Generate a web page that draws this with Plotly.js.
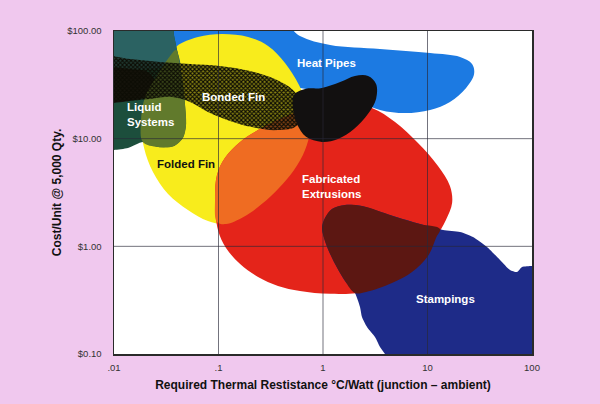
<!DOCTYPE html>
<html>
<head>
<meta charset="utf-8">
<script src="https://cdn.plot.ly/plotly-3.0.1.min.js"></script>
<style>html,body{margin:0;padding:0;background:#f0c8ee;}#chart{width:600px;height:404px;}</style>
</head>
<body>
<div id="chart"></div>
<script>
// Axis ticks
const xTickVals = [0.01, 0.1, 1, 10, 100];
const xTickText = ['.01', '.1', '1', '10', '100'];
const yTickVals = [0.1, 1, 10, 100];
const yTickText = ['$0.10', '$1.00', '$10.00', '$100.00'];

// Region outlines (thermal resistance °C/W, cost $/unit)
const heatPipesX = [0.0073,0.388,0.602,1.17,3.51,10.6,20.5,26.7,27.9,23.4,16.4,10.6,6.09,3.51,2.02,0.602,0.0665,0.01,0.0073];
const heatPipesY = [126,126,89.9,74.1,68.1,62.5,57.4,49.4,39.9,29.6,21.9,18.5,17.3,18.5,22.9,29.6,36.6,41.6,41.6];

const foldedFinX = [0.0401,0.0636,0.108,0.192,0.298,0.433,0.589,0.719,0.751,0.673,0.528,0.379,0.261,0.175,0.118,0.0793,0.0510,0.0329,0.0236,0.0194,0.0181,0.0198,0.0264,0.0344];
const foldedFinY = [72.6,88.0,93.8,88.0,72.6,50.5,31.5,19.3,12.0,7.86,5.12,3.49,2.48,1.88,1.61,1.72,2.18,3.07,4.91,8.20,14.3,24.4,39.9,58.6];

const extrusionsX = [0.0926,0.0967,0.115,0.161,0.261,0.463,0.838,1.62,2.94,4.89,8.11,12.6,16.4,17.2,15.0,12.1,10.1,7.11,4.57,2.58,1.17,0.602,0.371,0.239,0.161,0.118,0.0989];
const extrusionsY = [2.70,4.60,6.62,9.32,12.6,16.3,19.7,21.5,19.3,14.3,9.12,5.58,3.64,2.53,1.76,1.20,0.814,0.578,0.457,0.377,0.362,0.385,0.429,0.520,0.686,0.966,1.42];

const foldExtOverlapX = [0.0967,0.0926,0.0967,0.115,0.161,0.261,0.463,0.703,0.751,0.673,0.528,0.379,0.261,0.175,0.118];
const foldExtOverlapY = [1.685,2.70,4.60,6.62,9.32,12.6,16.3,19.3,12.0,7.86,5.12,3.49,2.48,1.88,1.61];

const liquidX = [0.0073,0.0359,0.0375,0.0401,0.0428,0.0457,0.0478,0.0489,0.0457,0.0375,0.0264,0.0189,0.0136,0.01,0.0073];
const liquidY = [126,126,91.8,66.6,48.3,31.5,20.6,13.4,10.2,8.55,8.37,9.32,8.20,7.86,7.86];

const liquidPipeOverlapX = [0.0073,0.0359,0.0375,0.0401,0.0428,0.0221,0.01,0.0073];
const liquidPipeOverlapY = [126,126,91.8,66.6,48.3,44.4,42.5,42.5];

const darkLeftX = [0.0073,0.0142,0.0212,0.0247,0.0221,0.0159,0.0073];
const darkLeftY = [43.5,44.4,41.6,33.6,25.5,22.9,22.9];

const liquidFoldOverlapX = [0.0392,0.0344,0.0264,0.0198,0.0181,0.0189,0.0264,0.0375,0.0457,0.0489,0.0478,0.0457,0.0428];
const liquidFoldOverlapY = [66.6,58.6,39.9,24.4,14.3,9.32,8.37,8.55,10.2,13.4,20.6,31.5,48.3];

const bondedFinX = [0.0073,0.0142,0.0276,0.0534,0.103,0.200,0.347,0.516,0.630,0.630,0.540,0.347,0.209,0.129,0.0793,0.0534,0.0359,0.0221,0.0127,0.0073];
const bondedFinY = [56.2,55.0,51.6,49.4,47.3,42.5,35.8,28.3,21.5,15.9,12.8,12.0,12.8,14.6,17.7,21.9,24.4,23.4,22.4,22.4];

const darkRightX = [0.528,0.673,0.978,1.46,2.02,2.70,3.22,3.22,2.70,1.98,1.39,0.978,0.688,0.564,0.516];
const darkRightY = [25.5,28.9,29.6,33.6,38.2,38.2,32.2,23.4,17.0,12.3,9.94,9.32,10.4,13.7,19.3];

const stampingsX = [1.045,1.219,1.624,2.361,4.677,8.477,14.07,20.46,27.25,37.11,49.41,61.58,71.87,80.22,100,133,133,4.574,3.920,3.512,3.145,2.637,2.361,2.260,2.024,1.624,1.274,1.068,0.978];
const stampingsY = [1.835,2.225,2.424,2.372,1.915,1.614,1.420,1.360,1.223,0.987,0.748,0.604,0.578,0.644,0.658,0.658,0.0743,0.0743,0.1,0.1164,0.1441,0.1785,0.2211,0.2737,0.3693,0.4773,0.7166,1.053,1.482];

const stampExtOverlapX = [1.045,1.219,1.624,2.361,4.677,8.477,13.17,12.06,10.11,7.108,4.574,2.579,2.024,1.624,1.274,1.068,0.978];
const stampExtOverlapY = [1.835,2.225,2.424,2.372,1.915,1.614,1.451,1.197,0.8144,0.5784,0.4572,0.3773,0.3693,0.4773,0.7166,1.053,1.482];

// Region labels
const labelText = ['Heat Pipes', 'Bonded Fin', 'Liquid<br>Systems', 'Folded Fin', 'Fabricated<br>Extrusions', 'Stampings'];
const labelX = [1.09, 0.1377, 0.01274, 0.0494, 0.6024, 15.0];
const labelY = [50.5, 24.4, 16.6, 5.82, 3.60, 0.325];
const labelAnchor = ['center', 'center', 'left', 'center', 'left', 'center'];
const labelColor = ['#ffffff', '#ffffff', '#ffffff', '#111111', '#ffffff', '#ffffff'];

function blob(x, y, color, smooth) {
  return {
    x: x.concat([x[0]]), y: y.concat([y[0]]), type: 'scatter', mode: 'lines',
    fill: 'toself', fillcolor: color,
    line: {width: 0, shape: 'spline', smoothing: smooth === undefined ? 1 : smooth},
    hoverinfo: 'skip', showlegend: false
  };
}

const band = blob(bondedFinX, bondedFinY, 'rgba(0,0,0,0)');
band.fillpattern = {shape: 'x', size: 3, solidity: 0.6, fgcolor: '#0c0c04', bgcolor: 'rgba(22,22,6,0.5)'};

// grid lines drawn over the regions
const gx = [], gy = [];
xTickVals.slice(1, -1).forEach(v => { gx.push(v, v, null); gy.push(0.1, 100, null); });
yTickVals.slice(1, -1).forEach(v => { gx.push(0.01, 100, null); gy.push(v, v, null); });

const traces = [
  blob(heatPipesX, heatPipesY, '#1c7ae2'),
  blob(foldedFinX, foldedFinY, '#f8ec1c'),
  blob(extrusionsX, extrusionsY, '#e4241a'),
  blob(foldExtOverlapX, foldExtOverlapY, '#ef6c22'),
  blob(liquidX, liquidY, '#1c4e3c', 0.6),
  blob(liquidPipeOverlapX, liquidPipeOverlapY, '#2b6262', 0.6),
  blob(darkLeftX, darkLeftY, '#141010'),
  blob(liquidFoldOverlapX, liquidFoldOverlapY, '#617a2c'),
  band,
  blob(darkRightX, darkRightY, '#121010'),
  blob(stampingsX, stampingsY, '#1e2b88', 0.6),
  blob(stampExtOverlapX, stampExtOverlapY, '#5c1712'),
  {x: gx, y: gy, type: 'scatter', mode: 'lines', line: {color: 'rgba(40,40,55,0.65)', width: 1},
   hoverinfo: 'skip', showlegend: false}
];

const annotations = labelText.map((t, i) => ({
  x: Math.log10(labelX[i]), y: Math.log10(labelY[i]), xref: 'x', yref: 'y',
  text: '<b>' + t + '</b>', showarrow: false, xanchor: labelAnchor[i], align: 'left',
  font: {family: 'Liberation Sans, Arial, sans-serif', size: 11.5, color: labelColor[i]}
}));

const axisCommon = {
  type: 'log', showgrid: false, zeroline: false, showline: true, mirror: true,
  linecolor: '#2a2a2a', linewidth: 1.5, ticks: 'outside', tickcolor: 'rgba(0,0,0,0)',
  tickfont: {family: 'Liberation Sans, Arial, sans-serif', size: 9.5, color: '#333'},
  fixedrange: true
};

const layout = {
  width: 600, height: 404,
  margin: {l: 114, r: 68, t: 31, b: 50},
  paper_bgcolor: '#f0c8ee', plot_bgcolor: '#ffffff',
  xaxis: Object.assign({}, axisCommon, {
    range: [-2, 2], tickvals: xTickVals, ticktext: xTickText, ticklen: 4,
    title: {text: '<b>Required Thermal Restistance °C/Watt (junction – ambient)</b>',
            font: {family: 'Liberation Sans, Arial, sans-serif', size: 12, color: '#111'}, standoff: 8}
  }),
  yaxis: Object.assign({}, axisCommon, {
    range: [-1, 2], tickvals: yTickVals, ticktext: yTickText, ticklen: 9,
    title: {text: '<b>Cost/Unit @ 5,000 Qty.</b>',
            font: {family: 'Liberation Sans, Arial, sans-serif', size: 12, color: '#111'}, standoff: 3}
  }),
  annotations: annotations,
  showlegend: false
};

Plotly.newPlot('chart', traces, layout, {displayModeBar: false, staticPlot: true});
</script>
</body>
</html>
